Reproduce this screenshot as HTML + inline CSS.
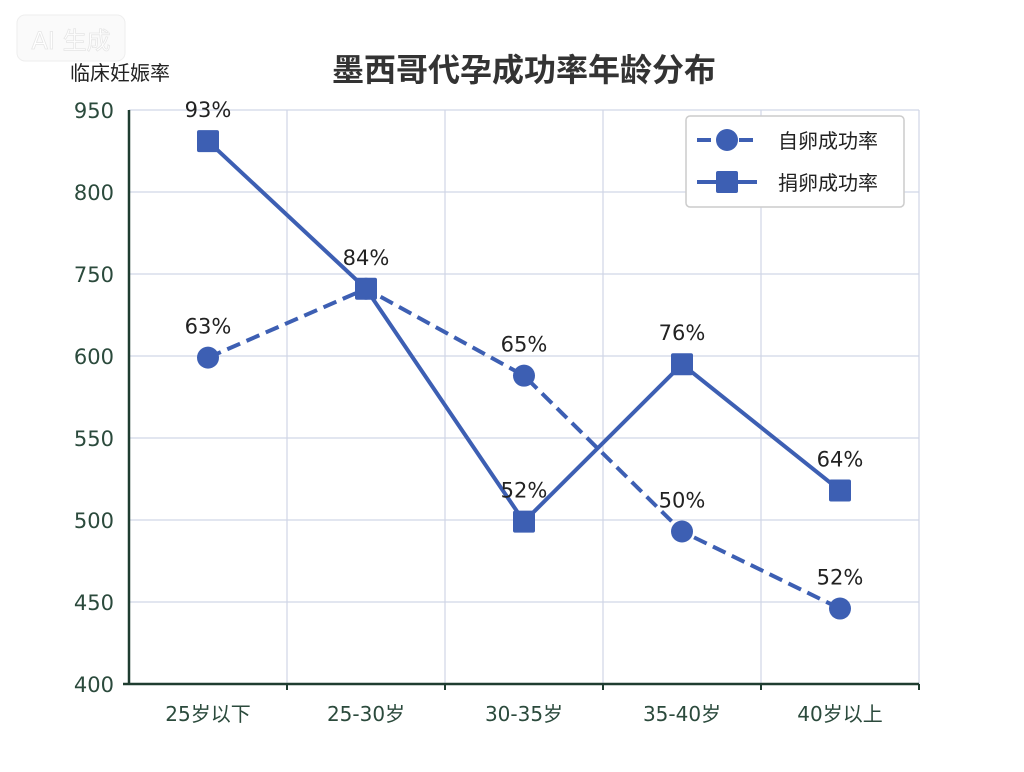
<!DOCTYPE html>
<html><head><meta charset="utf-8"><style>
body{margin:0;background:#fff;width:1024px;height:768px;overflow:hidden;font-family:"DejaVu Sans","Noto Sans CJK SC",sans-serif}
</style></head><body>
<svg width="1024" height="768" xmlns="http://www.w3.org/2000/svg">
<g>
<rect x="17" y="15" width="108" height="46" rx="8" fill="#fafafa" stroke="#eee"/>
<text x="71" y="49" font-size="24" fill="#fff" stroke="#e6e6e6" stroke-width="0.8" text-anchor="middle">AI 生成</text>
</g>
<text x="524" y="81" font-size="32" font-weight="bold" fill="#333" text-anchor="middle">墨西哥代孕成功率年龄分布</text>
<text x="70" y="80" font-size="20" fill="#222">临床妊娠率</text>
<g id="grid"></g>
<g id="axes"></g>
<g id="series"></g>
<g>
<rect x="686" y="116" width="218" height="91" rx="4" fill="#fff" stroke="#ccc" stroke-width="1.5"/>
<line x1="697" y1="140" x2="757" y2="140" stroke="#3d5fb3" stroke-width="4" stroke-dasharray="14,7"/>
<circle cx="727" cy="140" r="11" fill="#3d5fb3"/>
<text x="778" y="148" font-size="20" fill="#222">自卵成功率</text>
<line x1="697" y1="182" x2="757" y2="182" stroke="#3d5fb3" stroke-width="4"/>
<rect x="716" y="171" width="22" height="22" rx="2" fill="#3d5fb3"/>
<text x="778" y="190" font-size="20" fill="#222">捐卵成功率</text>
</g>
</svg>
<script>
const categories=["25岁以下","25-30岁","30-35岁","35-40岁","40岁以上"];
const tickValues=[400,450,500,550,600,650,700,750];
const tickLabels=["400","450","500","550","600","750","800","950"];
const ownValues=[599,641,588,493,446];
const ownLabels=["63%","84%","65%","50%","52%"];
const donorValues=[731,641,499,595,518];
const donorLabels=["93%","","52%","76%","64%"];
const ns="http://www.w3.org/2000/svg";
const X0=129,X1=919,Y0=684,Y1=110,VMIN=400,VMAX=750;
const band=(X1-X0)/categories.length;
const xs=i=>X0+band*(i+0.5);
const ys=v=>Y0-(v-VMIN)/(VMAX-VMIN)*(Y0-Y1);
function mk(t,a,p){const e=document.createElementNS(ns,t);for(const k in a)e.setAttribute(k,a[k]);p.appendChild(e);return e;}
const grid=document.getElementById('grid'),axes=document.getElementById('axes'),ser=document.getElementById('series');
tickValues.forEach((v,i)=>{const y=ys(v);
 if(i>0){const l=mk('line',{x1:X0,x2:X1,y1:y,y2:y,stroke:'#d0d6e6','stroke-width':1.2},grid);}
 const t=mk('text',{x:114,y:y+8,'font-size':21,fill:'#2b4a3c','text-anchor':'end'},axes);t.textContent=tickLabels[i];
 
});
for(let i=1;i<=categories.length;i++){const x=X0+band*i;
 const l=mk('line',{x1:x,x2:x,y1:Y1,y2:Y0,stroke:'#d0d6e6','stroke-width':1.2},grid);
 const tk=mk('line',{x1:x,x2:x,y1:Y0,y2:Y0+6,stroke:'#1f3d30','stroke-width':2},axes);}
categories.forEach((c,i)=>{const t=mk('text',{x:xs(i),y:721,'font-size':20,fill:'#2b4a3c','text-anchor':'middle'},axes);t.textContent=c;
 });
let a=mk('line',{x1:X0,x2:X0,y1:Y1,y2:Y0+1,stroke:'#1f3d30','stroke-width':2.5},axes);
a=mk('line',{x1:X0-6,x2:X1,y1:Y0,y2:Y0,stroke:'#1f3d30','stroke-width':2.5},axes);
function draw(vals,labs,dash,shape,name){
 const p=mk('polyline',{points:vals.map((v,i)=>xs(i)+','+ys(v)).join(' '),fill:'none',stroke:'#3d5fb3','stroke-width':4,'stroke-dasharray':dash},ser);
 
 vals.forEach((v,i)=>{const x=xs(i),y=ys(v);let m;
  if(shape==='c')m=mk('circle',{cx:x,cy:y,r:11,fill:'#3d5fb3'},ser);
  else m=mk('rect',{x:x-11,y:y-11,width:22,height:22,rx:2,fill:'#3d5fb3'},ser);
  
  if(labs[i]){const t=mk('text',{x:x,y:y-24,'font-size':21,fill:'#222','text-anchor':'middle'},ser);t.textContent=labs[i];
  }
 });
}
draw(ownValues,ownLabels,'14,7','c','own-egg');
draw(donorValues,donorLabels,'none','s','donor-egg');
</script>
</body></html>
